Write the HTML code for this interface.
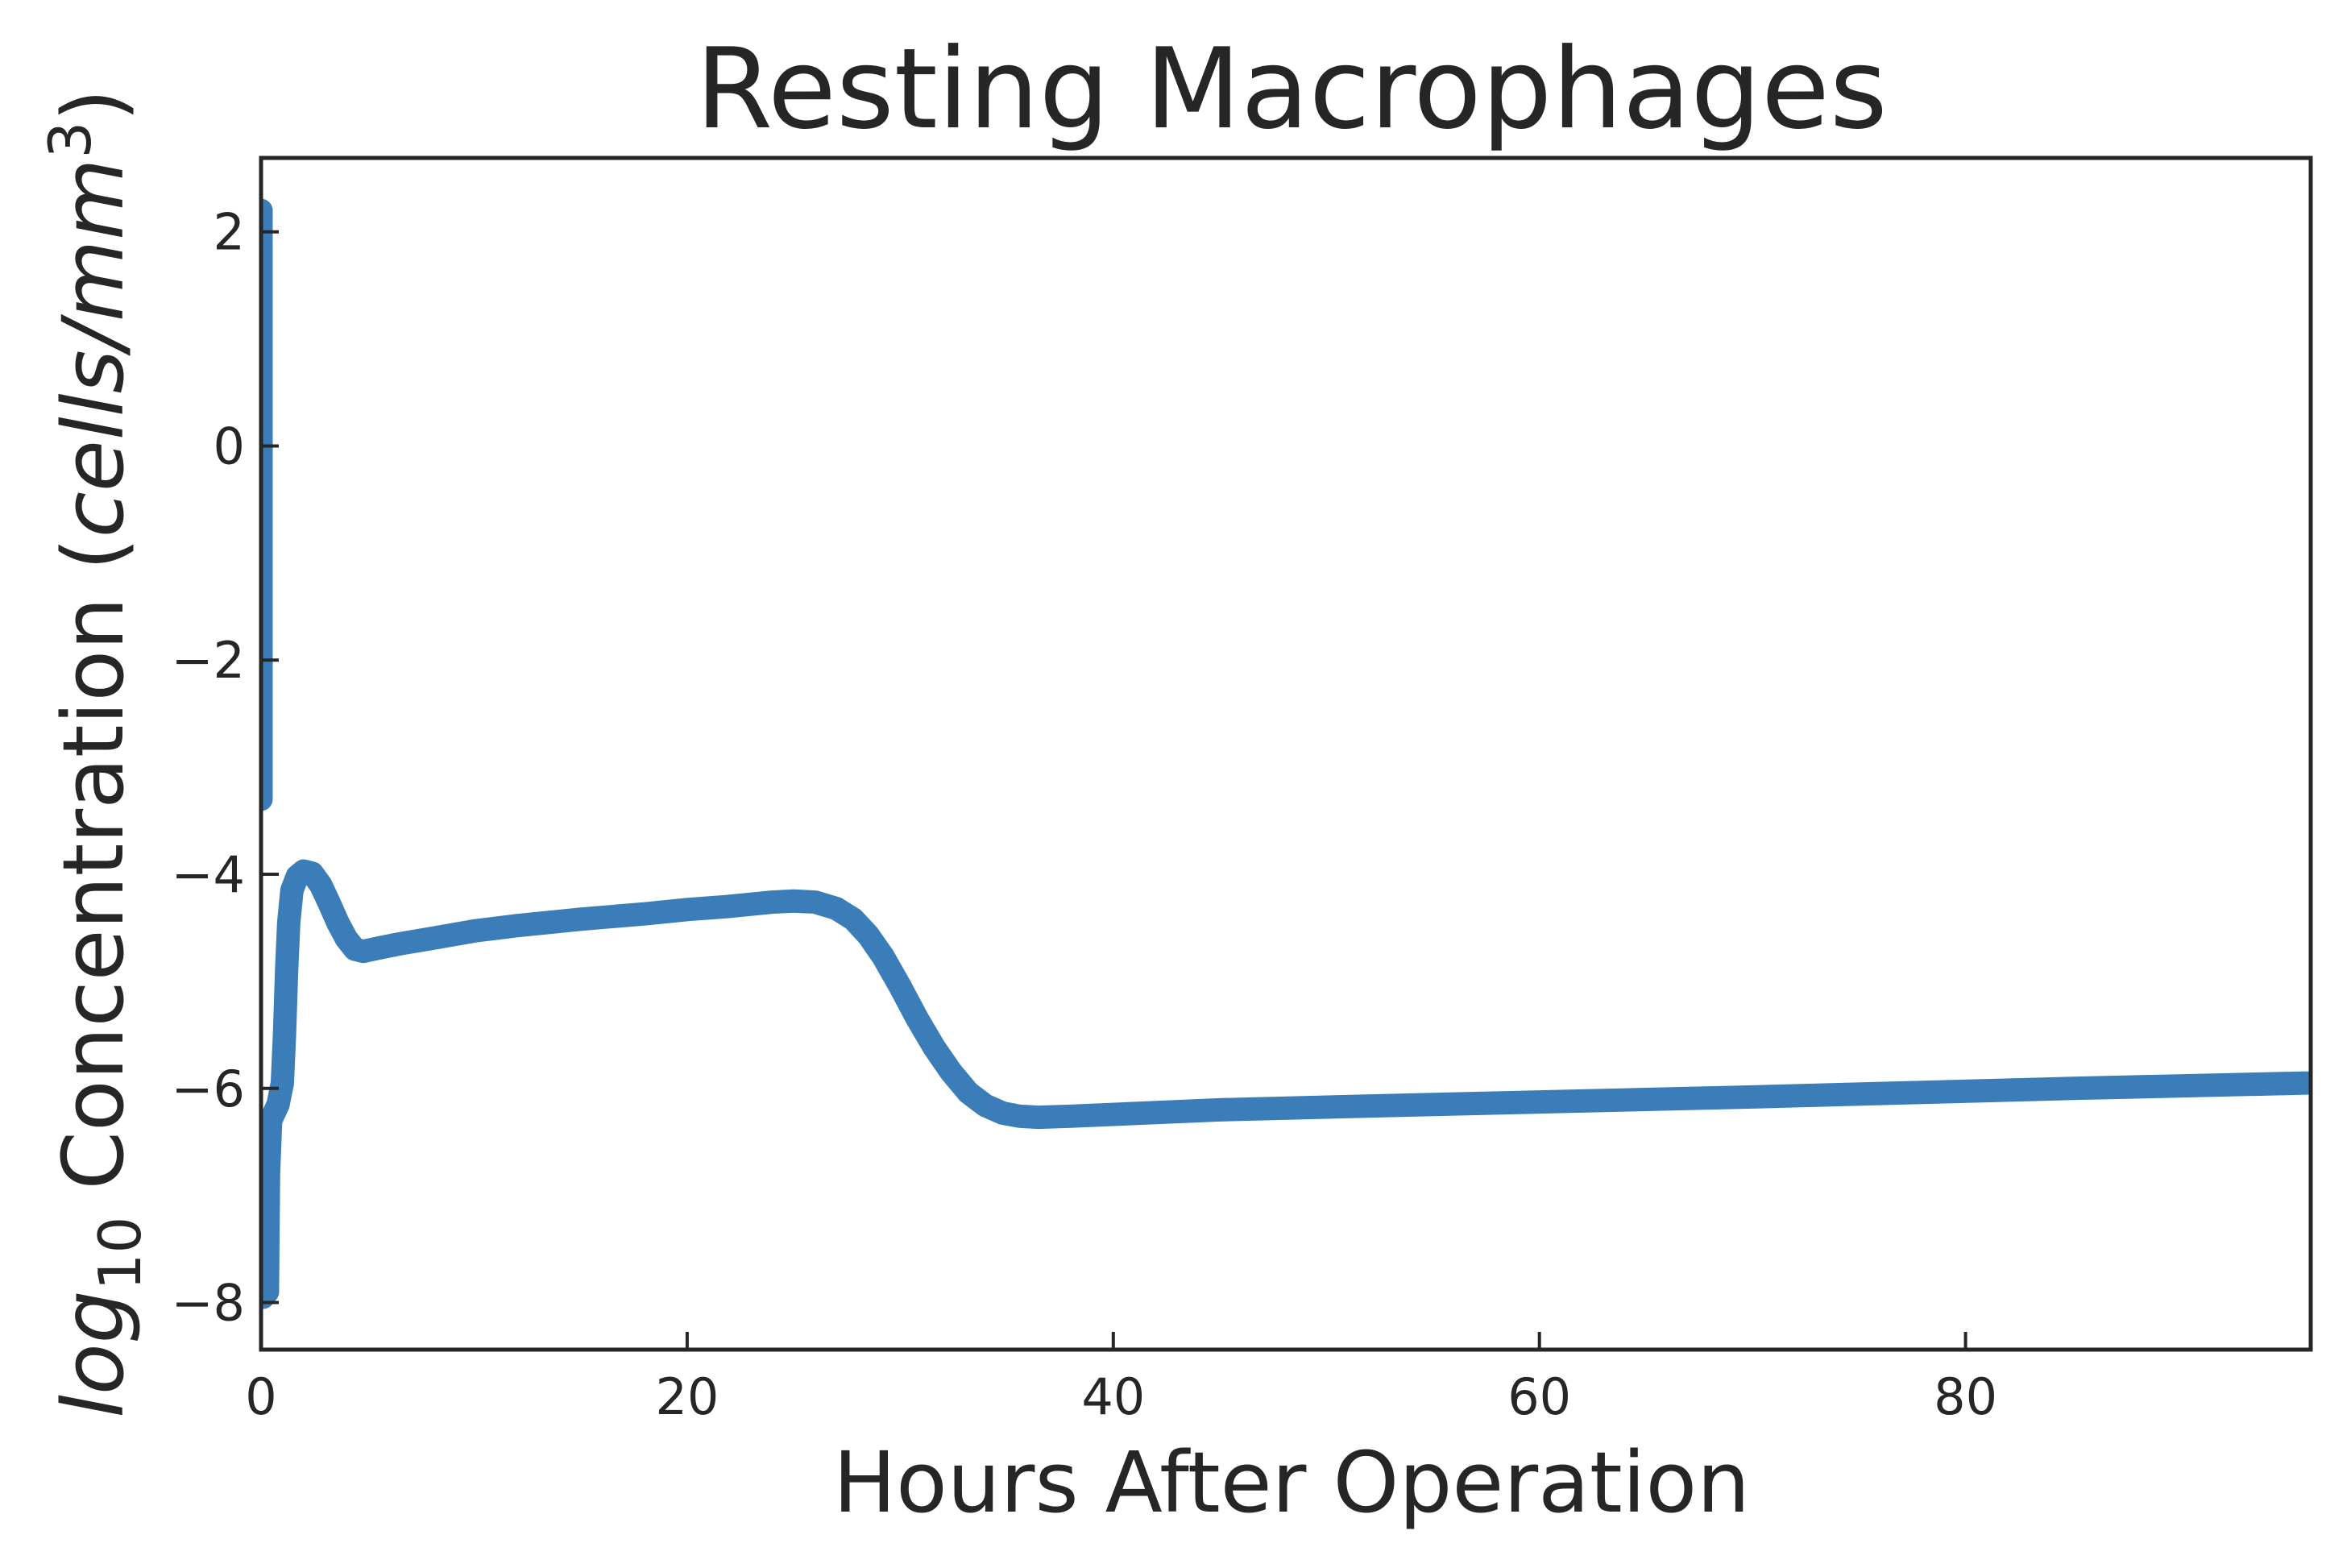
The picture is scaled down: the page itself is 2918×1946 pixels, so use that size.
<!DOCTYPE html>
<html><head><meta charset="utf-8"><style>
html,body{margin:0;padding:0;background:#fff;}
svg{display:block;font-family:"DejaVu Sans","Liberation Sans",sans-serif;}
</style></head><body>
<svg id="chart" width="2918" height="1946" viewBox="0 0 2918 1946" xmlns="http://www.w3.org/2000/svg">
<rect width="2918" height="1946" fill="#fff"/>
<text x="1603" y="158" font-size="138" fill="#262626" text-anchor="middle">Resting Macrophages</text>
<g id="plot"></g>
<text x="1603" y="1876" font-size="104" fill="#262626" text-anchor="middle">Hours After Operation</text>
<text transform="translate(152,935) rotate(-90)" font-size="104" fill="#262626" text-anchor="middle"><tspan font-style="italic">log</tspan><tspan font-size="72" dy="22">10</tspan><tspan dy="-22"> Concentration (</tspan><tspan font-style="italic">cells/mm</tspan><tspan font-size="72" dy="-40">3</tspan><tspan dy="40">)</tspan></text>
</svg>
<script>
const xTicks = [0, 20, 40, 60, 80];
const yTicks = [2, 0, -2, -4, -6, -8];
const spikeX = [0, 0];
const spikeY = [2.2, -3.3];
const hours = [0.1,0.3,0.35,0.45,0.8,1.0,1.1,1.2,1.3,1.45,1.7,2.0,2.4,2.8,3.2,3.6,4.0,4.4,4.8,5.5,6.5,8,10,12,15,18,20,22,24,25,26,27,27.8,28.5,29.2,30,30.8,31.6,32.4,33.2,34,34.8,35.6,36.5,38,45,55,70,85,96];
const logConc = [-7.95,-7.9,-6.8,-6.3,-6.15,-5.95,-5.5,-4.9,-4.45,-4.15,-4.02,-3.97,-3.99,-4.1,-4.27,-4.45,-4.6,-4.7,-4.72,-4.69,-4.65,-4.6,-4.53,-4.48,-4.42,-4.37,-4.33,-4.3,-4.26,-4.25,-4.26,-4.32,-4.42,-4.57,-4.77,-5.05,-5.35,-5.62,-5.85,-6.04,-6.16,-6.23,-6.26,-6.27,-6.26,-6.2,-6.15,-6.08,-6.0,-5.95];

const L=324,R=2868,T=196,B=1675, X0=0,X1=96.2, Y0=-8.44,Y1=2.69;
const xs=v=>L+(v-X0)/(X1-X0)*(R-L);
const ys=v=>B-(v-Y0)/(Y1-Y0)*(B-T);
const NS='http://www.w3.org/2000/svg';
const g=document.getElementById('plot');
function mk(t,a){const e=document.createElementNS(NS,t);for(const k in a)e.setAttribute(k,a[k]);return e;}
const clip=mk('clipPath',{id:'cp'});clip.appendChild(mk('rect',{x:L,y:T,width:R-L,height:B-T}));g.appendChild(clip);
const lg=mk('g',{'clip-path':'url(#cp)'});g.appendChild(lg);
let d1=spikeX.map((x,i)=>(i?'L':'M')+xs(x)+','+ys(spikeY[i])).join('');
const sp=mk('path',{d:d1,fill:'none',stroke:'#3a7db8','stroke-width':29,'stroke-linecap':'round'});


lg.appendChild(sp);
let d2=hours.map((x,i)=>(i?'L':'M')+xs(x)+','+ys(logConc[i])).join('');
const ln=mk('path',{d:d2,fill:'none',stroke:'#3a7db8','stroke-width':29,'stroke-linecap':'round','stroke-linejoin':'round'});


lg.appendChild(ln);
xTicks.forEach(v=>{
  const t=mk('line',{x1:xs(v),x2:xs(v),y1:B,y2:B-22,stroke:'#262626','stroke-width':4});
  
  
  g.appendChild(t);
  const lb=mk('text',{x:xs(v),y:B+80,'font-size':62,fill:'#262626','text-anchor':'middle'});
  lb.textContent=v;
  
  
  g.appendChild(lb);
});
yTicks.forEach(v=>{
  const t=mk('line',{x1:L,x2:L+22,y1:ys(v),y2:ys(v),stroke:'#262626','stroke-width':4});
  
  
  g.appendChild(t);
  const lb=mk('text',{x:L-20,y:ys(v)+22,'font-size':62,fill:'#262626','text-anchor':'end'});
  lb.textContent=v<0?'\u2212'+Math.abs(v):v;
  
  
  g.appendChild(lb);
});
const fr=mk('rect',{x:L,y:T,width:R-L,height:B-T,fill:'none',stroke:'#262626','stroke-width':5});


g.appendChild(fr);
</script>
</body></html>
